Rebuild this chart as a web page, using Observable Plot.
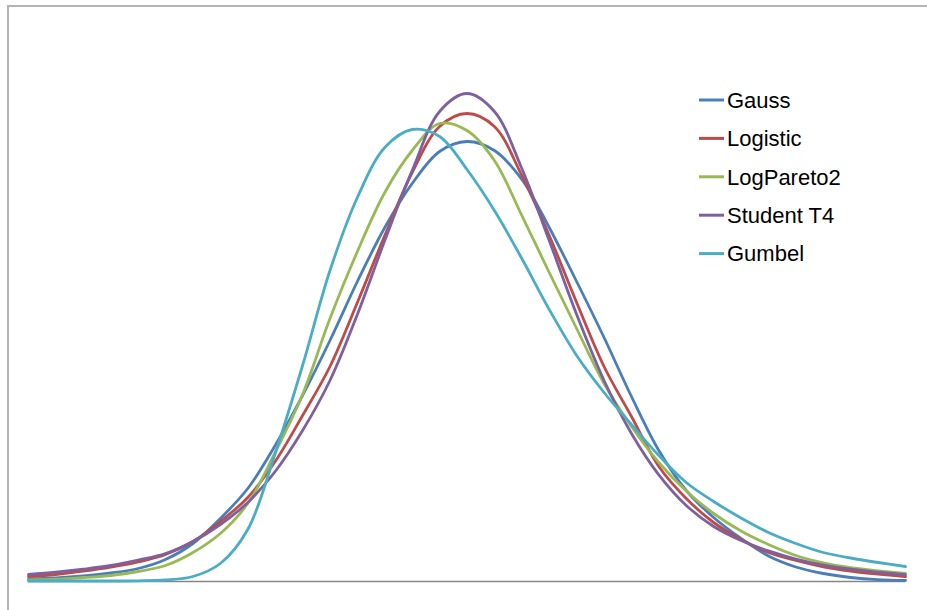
<!DOCTYPE html>
<html>
<head>
<meta charset="utf-8">
<script src="https://cdn.jsdelivr.net/npm/d3@7"></script>
<script src="https://cdn.jsdelivr.net/npm/@observablehq/plot@0.6"></script>
<style>
  html, body { margin: 0; padding: 0; background: #fff; overflow: hidden; }
  #wrap { position: relative; width: 927px; height: 610px; overflow: hidden; }
  #frame { position: absolute; left: 7px; top: 5px; width: 1000px; height: 1000px;
           border-left: 2px solid #b4b4b4; border-top: 2px solid #b4b4b4; box-sizing: border-box; }
  #chart { position: absolute; left: 0; top: 0; }
  #legend { position: absolute; left: 0; top: 0; }
</style>
</head>
<body>
<div id="wrap">
  <div id="frame"></div>
  <div id="chart"></div>
  <svg id="legend" width="927" height="610"></svg>
</div>
<script>
// x positions (standardised units)
const xs = [-4, -3.75, -3.5, -3.25, -3, -2.75, -2.5, -2.25, -2, -1.75, -1.5, -1.25, -1, -0.75, -0.5, -0.25,
            0, 0.25, 0.5, 0.75, 1, 1.25, 1.5, 1.75, 2, 2.25, 2.5, 2.75, 3, 3.25, 3.5, 3.75, 4];

// density values (arbitrary units ×1000)
const gauss = [2.5, 3.5, 5.5, 8.5, 13, 22, 38, 63, 93, 136, 186, 241, 300, 354, 398, 430,
               440, 431, 402, 354, 300, 244, 185, 131, 91, 64, 43, 25.5, 14.5, 8, 4, 1.8, 1];
const logistic = [5, 7, 10.3, 14.3, 19.5, 27, 40, 60, 84, 120, 166, 215, 279, 346, 409, 455,
                  468, 455, 406, 346, 279, 215, 165, 115, 83, 59, 42, 29, 21, 14.7, 10.4, 7.3, 4.8];
const logPareto2 = [1.5, 2.3, 4, 6, 10, 16, 29, 48, 78, 129, 187, 263, 330, 389, 431, 458,
                    451, 421, 366, 309, 253, 198, 155, 119, 90.5, 68, 50.5, 37, 26, 18.6, 13.8, 10.7, 8];
const studentT4 = [7, 9.3, 12.3, 16, 21.5, 28, 40, 57, 79, 110, 151, 201, 267, 341, 411, 470,
                   488, 470, 413, 341, 267, 201, 148, 106.6, 76, 55, 41, 30.6, 22.4, 16.4, 12.3, 9.3, 6.8];
const gumbel = [0.5, 0.5, 0.5, 0.5, 0.7, 1.5, 5, 18, 52, 128, 216, 311, 384, 434, 452, 445,
                412, 371, 323, 272, 226, 189, 157, 126, 99, 80, 63.5, 49, 38, 29, 23.5, 19, 15];

const seriesNames = ["Gauss", "Logistic", "LogPareto2", "Student T4", "Gumbel"];
const seriesValues = [gauss, logistic, logPareto2, studentT4, gumbel];
const seriesColors = ["#4A7EBB", "#BE4B48", "#98B954", "#7D60A0", "#4BACC6"];

const rows = [];
seriesNames.forEach((name, k) => {
  seriesValues[k].forEach((v, i) => rows.push({x: xs[i], y: v, s: name}));
});

const chart = Plot.plot({
  width: 927,
  height: 610,
  marginLeft: 28,
  marginRight: 22,
  marginTop: 81,
  marginBottom: 29,
  x: {domain: [-4, 4], axis: null},
  y: {domain: [0, 500], axis: null},
  color: {domain: seriesNames, range: seriesColors},
  style: {background: "transparent"},
  marks: [
    Plot.ruleY([0], {stroke: "#868686", strokeWidth: 1.5}),
    Plot.line(rows, {x: "x", y: "y", z: "s", stroke: "s", strokeWidth: 2.8,
                     curve: "catmull-rom", strokeLinejoin: "round"})
  ]
});
document.getElementById("chart").appendChild(chart);

// Legend
const lg = d3.select("#legend");
seriesNames.forEach((name, k) => {
  const cy = 100 + k * 38.4;
  lg.append("line")
    .attr("x1", 699).attr("x2", 724)
    .attr("y1", cy).attr("y2", cy)
    .attr("stroke", seriesColors[k]).attr("stroke-width", 3);
  lg.append("text")
    .attr("x", 727).attr("y", cy + 7.8)
    .attr("font-family", "'Liberation Sans', Arial, sans-serif")
    .attr("font-size", 22)
    .attr("fill", "#000")
    .text(name);
});
</script>
</body>
</html>
